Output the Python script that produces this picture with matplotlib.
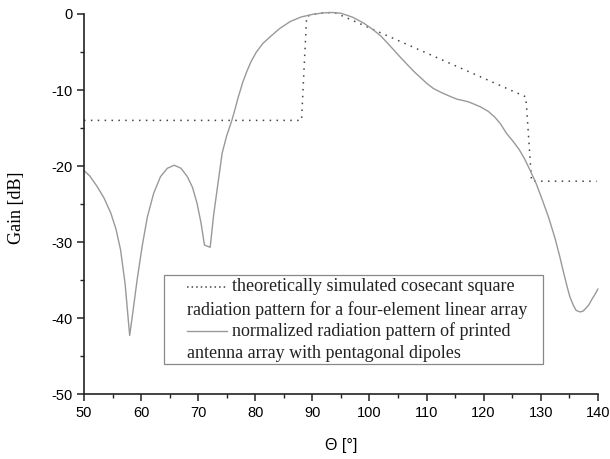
import numpy as np
import matplotlib.pyplot as plt
from matplotlib.patches import Rectangle

plt.rcParams['axes.unicode_minus'] = False

# Datos
theta = [50, 51, 52.3, 53.5, 54.7, 55.6, 56.4, 57.2, 58.0, 58.6, 59.3, 60.2,
         61.1, 62.2, 63.4, 64.6, 65.8, 67.0, 68.1, 69.0, 69.8, 70.5, 71.1,
         72.1, 72.7, 73.3, 74.2, 75.0, 75.9, 76.5, 77.0, 77.8, 78.5, 79.3,
         80.2, 81.3, 82.6, 84.3, 86.1, 88, 90, 92, 93.5, 95, 97, 99, 100.7,
         102, 103.5, 105.3, 107.7, 110, 111.2, 112.5, 114, 115.3, 116.5,
         117.5, 119.4, 120.8, 122, 123, 124, 125.1, 126.2, 127.2, 128.1,
         129.2, 130.3, 131.4, 132.5, 133.3, 134, 134.6, 135.1, 135.7, 136.2,
         136.9, 137.4, 137.8, 138.4, 139, 139.5, 140]
gain = [-20.6, -21.3, -22.7, -24.2, -26.2, -28.3, -31.0, -35.5, -42.3, -39.0,
        -35.0, -30.5, -26.7, -23.6, -21.4, -20.3, -19.9, -20.3, -21.4, -22.8,
        -24.9, -27.5, -30.4, -30.7, -26.5, -23.2, -18.3, -16.0, -14.0, -12.4,
        -11.0, -9.0, -7.6, -6.2, -5.0, -3.9, -3.0, -1.9, -1.0, -0.4, -0.05,
        0.15, 0.2, 0.1, -0.4, -1.2, -2.1, -2.9, -4.1, -5.6, -7.5, -9.1, -9.8,
        -10.3, -10.8, -11.2, -11.4, -11.6, -12.2, -12.8, -13.6, -14.5, -15.7,
        -16.7, -17.8, -19.1, -20.5, -22.3, -24.5, -26.8, -29.5, -31.8, -34.0,
        -35.8, -37.2, -38.3, -39.0, -39.2, -39.1, -38.8, -38.3, -37.5, -36.9,
        -36.2]

theta_csc = [50, 88.1, 89.0, 91, 93.5, 94.2, 127.4, 128.4, 139.8]
gain_csc = [-14, -14, -0.3, 0.1, 0.2, 0.1, -10.9, -22, -22]

fig = plt.figure(figsize=(6.1, 4.59), dpi=100)
ax = fig.add_axes([0.1377, 0.1416, 0.8423, 0.8279])

ax.plot(theta_csc, gain_csc, color='#444444', lw=1.1, ls=(0, (1, 3.5)),
        clip_on=False)
ax.plot(theta, gain, color='#999999', lw=1.0, clip_on=False)

ax.set_xlim(50, 140)
ax.set_ylim(-50, 0)
ax.set_xticks(np.arange(50, 141, 10))
ax.set_yticks(np.arange(-50, 1, 10))
ax.set_xticks(np.arange(55, 140, 10), minor=True)
ax.set_yticks(np.arange(-45, 0, 10), minor=True)
for s in ['top', 'right']:
    ax.spines[s].set_visible(False)
for s in ['left', 'bottom']:
    ax.spines[s].set_linewidth(1.2)
    ax.spines[s].set_color('#222222')
ax.tick_params(which='major', length=5, width=1.1, direction='out',
               labelsize=10.5, color='#222222')
ax.tick_params(which='minor', length=3, width=1.0, direction='out',
               color='#222222')
for lab in ax.get_xticklabels() + ax.get_yticklabels():
    lab.set_family('Liberation Sans')

ax.set_xlabel('Θ [°]', family='Liberation Sans', fontsize=11.5)
ax.set_ylabel('Gain [dB]', family='Liberation Serif', fontsize=13)
ax.xaxis.set_label_coords(0.5, -0.115)
ax.yaxis.set_label_coords(-0.115, 0.49)

# Leyenda estilo Origin, dibujada a mano
ax.add_patch(Rectangle((64.0, -46.05), 66.4, 11.75, fill=False,
                       edgecolor='#888888', lw=0.9, zorder=3))
ax.plot([68.0, 75.0], [-35.9, -35.9], color='#444444', lw=1.1,
        ls=(0, (1, 2)))
ax.plot([68.0, 75.0], [-41.7, -41.7], color='#999999', lw=1.0)
tkw = dict(family='Liberation Serif', fontsize=13, va='center',
           color='#222222')
ax.text(75.9, -35.9, 'theoretically simulated cosecant square', **tkw)
ax.text(68.0, -38.9, 'radiation pattern for a four-element linear array', **tkw)
ax.text(75.9, -41.7, 'normalized radiation pattern of printed', **tkw)
ax.text(68.0, -44.7, 'antenna array with pentagonal dipoles', **tkw)

fig.savefig('out.png', dpi=100)
